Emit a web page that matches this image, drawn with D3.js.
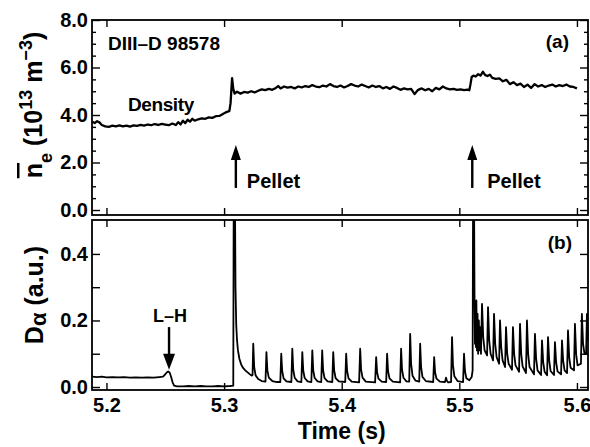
<!DOCTYPE html>
<html>
<head>
<meta charset="utf-8">
<script src="https://cdn.jsdelivr.net/npm/d3@7/dist/d3.min.js"></script>
<style>
  body { margin: 0; background: #fff; }
  svg text { font-family: "Liberation Sans", Arial, sans-serif; font-weight: bold; fill: #000; }
  .trace { fill: none; stroke: #000; stroke-linejoin: round; }
  .axis path { display: none; }
  .axis line { stroke: #000; stroke-width: 1.4; }
  .axis text { font-size: 20px; }
</style>
</head>
<body>
<div id="chart"></div>
<script>
// time axis ticks (s)
var timeTicks = [5.2, 5.3, 5.4, 5.5, 5.6];
var densTicks = [0, 2, 4, 6, 8];
var dalphaTicks = [0, 0.1, 0.2, 0.3, 0.4];
var dalphaLabelTicks = [0, 0.2, 0.4];

// line average density, 10^13 m^-3  [t, value]
var density = [
  [5.188,3.72],[5.190,3.66],[5.192,3.74],[5.194,3.69],[5.196,3.58],[5.199,3.52],[5.202,3.50],
  [5.205,3.55],[5.208,3.52],[5.211,3.56],[5.214,3.52],[5.217,3.55],[5.220,3.51],[5.223,3.56],
  [5.226,3.54],[5.229,3.58],[5.232,3.55],[5.235,3.60],[5.238,3.57],[5.241,3.62],[5.244,3.58],
  [5.247,3.63],[5.250,3.60],[5.253,3.57],[5.256,3.64],[5.259,3.58],[5.261,3.70],[5.263,3.60],
  [5.265,3.76],[5.267,3.66],[5.269,3.80],[5.271,3.72],[5.273,3.84],[5.275,3.76],[5.278,3.82],
  [5.281,3.86],[5.284,3.84],[5.287,3.90],[5.290,3.88],[5.293,3.95],[5.296,3.96],[5.299,4.04],
  [5.301,4.10],[5.303,4.14],[5.3045,4.16],[5.3055,4.50],[5.3068,5.55],[5.3078,5.10],[5.309,4.90],
  [5.311,4.98],[5.314,4.90],[5.317,4.97],[5.320,4.94],[5.323,5.00],[5.326,4.95],[5.329,5.02],
  [5.332,5.08],[5.335,5.05],[5.338,5.10],[5.341,5.06],[5.344,5.14],[5.346,5.22],[5.348,5.12],
  [5.351,5.20],[5.354,5.15],[5.357,5.18],[5.360,5.12],[5.363,5.20],[5.366,5.16],[5.369,5.22],
  [5.372,5.18],[5.375,5.26],[5.378,5.20],[5.381,5.17],[5.384,5.24],[5.387,5.20],[5.390,5.30],
  [5.393,5.22],[5.396,5.18],[5.399,5.24],[5.402,5.16],[5.405,5.22],[5.408,5.30],[5.411,5.24],
  [5.414,5.20],[5.417,5.28],[5.420,5.22],[5.423,5.16],[5.426,5.24],[5.429,5.18],[5.432,5.22],
  [5.435,5.12],[5.438,5.18],[5.441,5.10],[5.444,5.20],[5.447,5.14],[5.450,5.06],[5.453,5.12],
  [5.456,5.08],[5.459,5.10],[5.462,4.88],[5.465,5.06],[5.468,5.12],[5.471,5.04],[5.474,5.10],
  [5.477,5.00],[5.480,5.14],[5.483,5.08],[5.486,5.20],[5.489,5.12],[5.492,5.08],[5.495,5.10],
  [5.498,5.06],[5.501,5.08],[5.504,5.05],[5.507,5.07],[5.5085,5.04],[5.5095,5.30],[5.5105,5.60],
  [5.512,5.66],[5.514,5.62],[5.516,5.72],[5.518,5.66],[5.520,5.82],[5.522,5.68],[5.524,5.64],
  [5.526,5.70],[5.528,5.56],[5.531,5.52],[5.534,5.54],[5.537,5.42],[5.540,5.48],[5.543,5.30],
  [5.546,5.38],[5.549,5.26],[5.552,5.32],[5.555,5.18],[5.558,5.28],[5.561,5.14],[5.564,5.30],
  [5.567,5.20],[5.570,5.26],[5.573,5.18],[5.576,5.24],[5.579,5.28],[5.582,5.20],[5.585,5.26],
  [5.588,5.22],[5.591,5.28],[5.594,5.20],[5.597,5.18],[5.600,5.12]
];

// D-alpha emission, a.u.  [t, value]
var dalpha = [
  [5.188,0.031],[5.192,0.030],[5.196,0.031],[5.200,0.029],[5.205,0.030],[5.210,0.029],[5.215,0.030],
  [5.220,0.028],[5.225,0.029],[5.230,0.028],[5.235,0.029],[5.240,0.028],[5.245,0.030],[5.248,0.031],
  [5.2495,0.036],[5.251,0.043],[5.2525,0.047],[5.2538,0.043],[5.255,0.030],[5.2562,0.014],[5.2575,0.004],
  [5.260,0.002],[5.265,0.002],[5.270,0.003],[5.275,0.002],[5.280,0.003],[5.285,0.002],[5.290,0.002],
  [5.295,0.003],[5.300,0.002],[5.305,0.003],[5.3078,0.004],
  // first pellet
  [5.3082,0.60],[5.3092,0.60],[5.3097,0.30],[5.3103,0.19],[5.311,0.14],[5.3118,0.11],[5.313,0.085],
  [5.3145,0.068],[5.316,0.058],[5.318,0.050],[5.320,0.044],[5.322,0.038],[5.3236,0.034],
  // ELMs
  [5.3242,0.036],[5.3248,0.13],[5.3256,0.06],[5.3268,0.035],[5.329,0.024],[5.332,0.018],[5.3352,0.016],
  [5.336,0.105],[5.3368,0.05],[5.338,0.028],[5.341,0.018],[5.345,0.015],[5.3478,0.015],
  [5.3486,0.10],[5.3494,0.048],[5.3506,0.026],[5.353,0.017],[5.3572,0.015],
  [5.358,0.115],[5.3588,0.052],[5.36,0.028],[5.3625,0.017],[5.3657,0.015],
  [5.3665,0.105],[5.3673,0.05],[5.3685,0.027],[5.371,0.017],[5.3742,0.015],
  [5.375,0.11],[5.3758,0.05],[5.377,0.027],[5.3795,0.017],[5.3826,0.015],
  [5.3834,0.11],[5.3842,0.05],[5.3854,0.027],[5.388,0.017],[5.392,0.015],
  [5.3928,0.105],[5.3936,0.05],[5.3948,0.027],[5.3975,0.017],[5.403,0.015],
  [5.4038,0.10],[5.4046,0.048],[5.4058,0.026],[5.4085,0.016],[5.4148,0.014],
  [5.4157,0.115],[5.4165,0.052],[5.4177,0.028],[5.4205,0.016],[5.4284,0.014],
  [5.4293,0.09],[5.4301,0.044],[5.4313,0.025],[5.434,0.016],[5.4378,0.015],
  [5.4386,0.10],[5.4394,0.048],[5.4406,0.026],[5.4435,0.016],[5.4497,0.014],
  [5.4505,0.115],[5.4513,0.052],[5.4525,0.028],[5.455,0.017],[5.4574,0.016],
  [5.4582,0.16],[5.459,0.07],[5.4602,0.034],[5.4628,0.019],[5.4659,0.016],
  [5.4667,0.13],[5.4675,0.06],[5.4687,0.03],[5.4715,0.018],[5.4778,0.015],
  [5.4786,0.09],[5.4794,0.044],[5.4806,0.025],[5.4835,0.016],[5.4878,0.015],
  [5.4887,0.028],[5.4895,0.018],[5.4905,0.014],[5.493,0.015],
  [5.4938,0.15],[5.4946,0.066],[5.4958,0.032],[5.4985,0.018],[5.5032,0.015],
  [5.504,0.10],[5.5048,0.048],[5.506,0.026],[5.5085,0.02],[5.5105,0.03],[5.5113,0.05],
  // second pellet
  [5.5117,0.60],[5.5125,0.60],[5.5129,0.28],[5.5133,0.13],[5.5137,0.24],[5.5141,0.12],[5.5145,0.26],
  [5.515,0.11],[5.5155,0.22],[5.516,0.10],[5.5166,0.20],[5.5172,0.11],[5.5178,0.18],[5.5184,0.10],
  [5.5193,0.25],[5.5203,0.15],[5.5215,0.11],[5.5236,0.095],
  [5.5244,0.24],[5.5254,0.14],[5.5266,0.10],[5.5287,0.08],
  [5.5295,0.22],[5.5305,0.13],[5.5317,0.09],[5.5338,0.07],
  [5.5346,0.20],[5.5356,0.12],[5.5368,0.08],[5.5389,0.06],
  [5.5397,0.18],[5.5407,0.10],[5.5419,0.07],[5.5448,0.052],
  [5.5456,0.18],[5.5466,0.10],[5.5478,0.065],[5.5508,0.046],
  [5.5516,0.19],[5.5526,0.10],[5.5538,0.062],[5.5567,0.042],
  [5.5575,0.20],[5.5585,0.10],[5.5597,0.06],[5.5635,0.038],
  [5.5643,0.16],[5.5653,0.085],[5.5665,0.05],[5.5695,0.036],
  [5.5703,0.14],[5.5713,0.075],[5.5725,0.046],[5.5746,0.035],
  [5.5754,0.15],[5.5764,0.08],[5.5776,0.048],[5.5805,0.036],
  [5.5813,0.135],[5.5823,0.075],[5.5835,0.047],[5.5865,0.038],
  [5.5873,0.14],[5.5883,0.078],[5.5895,0.05],[5.5916,0.042],
  [5.5924,0.17],[5.5934,0.09],[5.5946,0.058],[5.5975,0.05],
  [5.5983,0.19],[5.5993,0.10],[5.6005,0.065],[5.6034,0.07],
  [5.6042,0.22],[5.6052,0.13],[5.6064,0.10],[5.6078,0.10],
  [5.6085,0.22],[5.6092,0.14]
];

// pellet arrival times and L-H transition time (s)
var pelletTimes = [5.310, 5.511];
var lhTime = 5.2532;

var width = 590, height = 447;
var left = 92, right = 588;

var svg = d3.select("#chart").append("svg")
  .attr("width", width)
  .attr("height", height);

var x = d3.scaleLinear().domain([5.1877, 5.6094]).range([left, right]);
var yTop = d3.scaleLinear().domain([-0.21, 8.0]).range([215, 20]);
var yBot = d3.scaleLinear().domain([-0.009, 0.502]).range([390, 220]);

var defs = svg.append("defs");
defs.append("clipPath").attr("id", "clipTop")
  .append("rect").attr("x", left).attr("y", 20).attr("width", right - left).attr("height", 195);
defs.append("clipPath").attr("id", "clipBot")
  .append("rect").attr("x", left).attr("y", 220).attr("width", right - left + 2).attr("height", 170);

function drawPanel(yScale, top, bottom, majorTicks, minorTicks, labelTicks, showX) {
  var g = svg.append("g");
  // x ticks on bottom and top, pointing inward
  g.append("g").attr("class", "axis")
    .attr("transform", "translate(0," + bottom + ")")
    .call(d3.axisBottom(x).tickValues(timeTicks).tickSize(-7).tickPadding(8)
      .tickFormat(showX ? d3.format(".1f") : function() { return ""; }));
  g.append("g").attr("class", "axis")
    .attr("transform", "translate(0," + top + ")")
    .call(d3.axisTop(x).tickValues(timeTicks).tickSize(-7).tickFormat(function() { return ""; }));

  // y ticks left (labelled) and right
  g.append("g").attr("class", "axis")
    .attr("transform", "translate(" + left + ",0)")
    .call(d3.axisLeft(yScale).tickValues(minorTicks).tickSize(-4).tickFormat(function() { return ""; }));
  g.append("g").attr("class", "axis")
    .attr("transform", "translate(" + left + ",0)")
    .call(d3.axisLeft(yScale).tickValues(majorTicks).tickSize(-8).tickPadding(4)
      .tickFormat(function(d) { return labelTicks.indexOf(d) >= 0 ? d3.format(".1f")(d) : ""; }));
  g.append("g").attr("class", "axis")
    .attr("transform", "translate(" + right + ",0)")
    .call(d3.axisRight(yScale).tickValues(minorTicks).tickSize(-4).tickFormat(function() { return ""; }));
  g.append("g").attr("class", "axis")
    .attr("transform", "translate(" + right + ",0)")
    .call(d3.axisRight(yScale).tickValues(majorTicks).tickSize(-8).tickFormat(function() { return ""; }));

  g.append("rect")
    .attr("x", left).attr("y", top)
    .attr("width", right - left).attr("height", bottom - top)
    .attr("fill", "none").attr("stroke", "#000").attr("stroke-width", 1.8);
}

// top panel: density
var densMinor = d3.range(0, 8.01, 0.5).filter(function(d) { return d % 2 !== 0; });
drawPanel(yTop, 20, 215, densTicks, densMinor, densTicks, false);
// bottom panel: D alpha
drawPanel(yBot, 220, 390, dalphaTicks, [], dalphaLabelTicks, true);

var lineTop = d3.line().x(function(d) { return x(d[0]); }).y(function(d) { return yTop(d[1]); });
var lineBot = d3.line().x(function(d) { return x(d[0]); }).y(function(d) { return yBot(d[1]); });

svg.append("path").datum(density)
  .attr("class", "trace")
  .attr("clip-path", "url(#clipTop)")
  .attr("stroke-width", 2.3)
  .attr("d", lineTop);

svg.append("path").datum(dalpha)
  .attr("class", "trace")
  .attr("clip-path", "url(#clipBot)")
  .attr("stroke-width", 1.8)
  .attr("d", lineBot);

// arrows
function arrow(x0, yTail, yTip, half, len) {
  var dir = yTip < yTail ? 1 : -1;
  svg.append("line")
    .attr("x1", x0).attr("x2", x0)
    .attr("y1", yTail).attr("y2", yTip + dir * (len - 2))
    .attr("stroke", "#000").attr("stroke-width", 2.4);
  svg.append("path")
    .attr("d", "M" + x0 + "," + yTip + "L" + (x0 - half) + "," + (yTip + dir * len) +
      "L" + (x0 + half) + "," + (yTip + dir * len) + "Z")
    .attr("fill", "#000");
}

var pelletOffsets = [11, 15];
pelletTimes.forEach(function(t, i) {
  arrow(x(t), yTop(0.93), yTop(2.74), 5, 15);
  svg.append("text")
    .attr("x", x(t) + pelletOffsets[i]).attr("y", yTop(0.93))
    .attr("font-size", 20)
    .text("Pellet");
});

arrow(x(lhTime), yBot(0.18), yBot(0.052), 6, 16);
svg.append("text")
  .attr("x", x(lhTime) + 1).attr("y", yBot(0.196))
  .attr("text-anchor", "middle")
  .attr("font-size", 18)
  .text("L\u2013H");

// panel annotations
svg.append("text").attr("x", 108).attr("y", 50).attr("font-size", 19).text("DIII\u2013D 98578");
svg.append("text").attr("x", 128).attr("y", 111).attr("font-size", 19)
  .attr("letter-spacing", -0.4).text("Density");
svg.append("text").attr("x", 569).attr("y", 48).attr("text-anchor", "end").attr("font-size", 19).text("(a)");
svg.append("text").attr("x", 572).attr("y", 249).attr("text-anchor", "end").attr("font-size", 19).text("(b)");

// axis titles
svg.append("text")
  .attr("x", x(5.4)).attr("y", 439)
  .attr("text-anchor", "middle")
  .attr("font-size", 23)
  .text("Time (s)");

var yt = svg.append("text")
  .attr("transform", "translate(42,105) rotate(-90)")
  .attr("text-anchor", "middle")
  .attr("font-size", 25);
yt.append("tspan").style("text-decoration", "overline").text("n");
yt.append("tspan").attr("baseline-shift", "sub").attr("font-size", 18).text("e");
yt.append("tspan").text(" (10");
yt.append("tspan").attr("baseline-shift", "super").attr("font-size", 18).text("13");
yt.append("tspan").text(" m");
yt.append("tspan").attr("baseline-shift", "super").attr("font-size", 18).text("\u22123");
yt.append("tspan").text(")");

var yb = svg.append("text")
  .attr("transform", "translate(43,295) rotate(-90)")
  .attr("text-anchor", "middle")
  .attr("font-size", 25);
yb.append("tspan").text("D");
yb.append("tspan").attr("baseline-shift", "-3").attr("font-size", 22).text("\u03b1");
yb.append("tspan").text(" (a.u.)");
</script>
</body>
</html>
